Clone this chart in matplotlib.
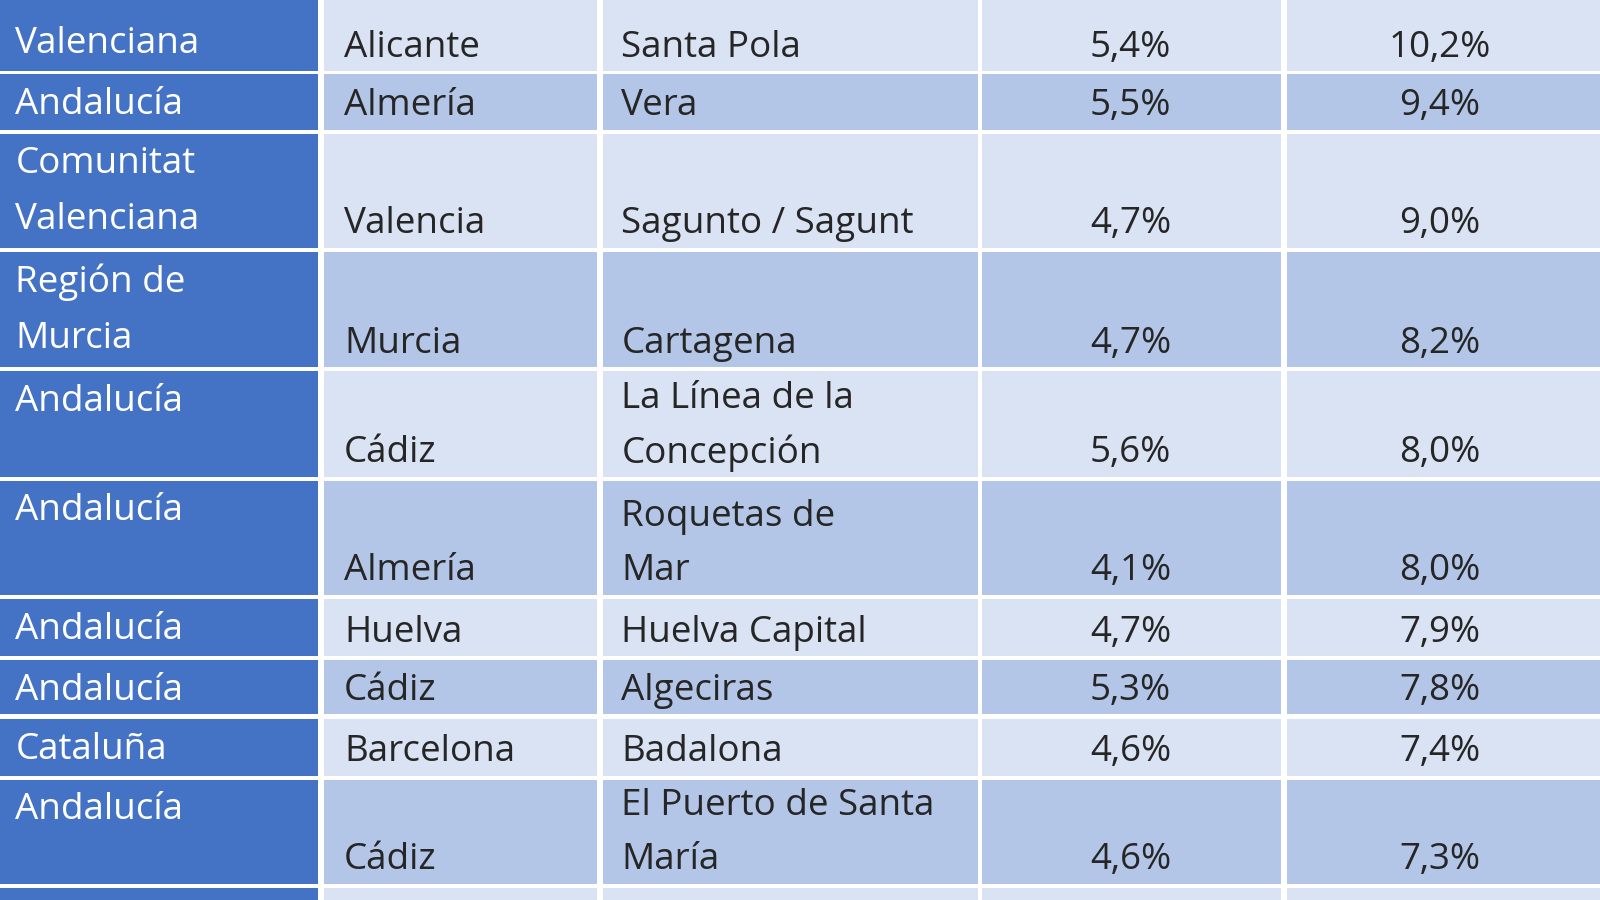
import matplotlib.pyplot as plt
from matplotlib.patches import Rectangle

# ======================
# DATA
# ======================
comunidad = [["Comunitat", "Valenciana"], ["Andalucía"], ["Comunitat", "Valenciana"],
             ["Región de", "Murcia"], ["Andalucía"], ["Andalucía"], ["Andalucía"],
             ["Andalucía"], ["Cataluña"], ["Andalucía"], ["Comunitat", "Valenciana"]]
provincia = ["Alicante", "Almería", "Valencia", "Murcia", "Cádiz", "Almería",
             "Huelva", "Cádiz", "Barcelona", "Cádiz", ""]
municipio = [["Santa Pola"], ["Vera"], ["Sagunto / Sagunt"], ["Cartagena"],
             ["La Línea de la", "Concepción"], ["Roquetas de", "Mar"],
             ["Huelva Capital"], ["Algeciras"], ["Badalona"],
             ["El Puerto de Santa", "María"], [""]]
valor_1 = ["5,4%", "5,5%", "4,7%", "4,7%", "5,6%", "4,1%", "4,7%", "5,3%", "4,6%", "4,6%", ""]
valor_2 = ["10,2%", "9,4%", "9,0%", "8,2%", "8,0%", "8,0%", "7,9%", "7,8%", "7,4%", "7,3%", ""]

# ======================
# LAYOUT
# ======================
W, H = 1568, 882
col_edges = [(0, 312), (318, 585), (591, 958), (962, 1255), (1261, 1568)]
row_edges = [(-42, 70), (73, 127), (131, 243), (247, 360), (364, 467), (471, 583),
             (587, 643), (647, 700), (705, 760), (764, 866), (870, 990)]
DARK = "#4472c4"
LIGHT = "#dae3f3"
MID = "#b4c6e7"
TXT = "#262626"
FS = 26.5

fig = plt.figure(figsize=(16, 9), dpi=100)
ax = fig.add_axes([0, 0, 1, 1])
ax.set_xlim(0, W)
ax.set_ylim(H, 0)
ax.axis("off")

for i, (top, bot) in enumerate(row_edges):
    fill = LIGHT if i % 2 == 0 else MID
    for j, (x0, x1) in enumerate(col_edges):
        c = DARK if j == 0 else fill
        ax.add_patch(Rectangle((x0, top), x1 - x0, bot - top, color=c, lw=0))

    # first column: top aligned, white
    for k, line in enumerate(comunidad[i]):
        ax.text(15, top + 30 + k * 55, line, color="white", fontsize=FS,
                family="Open Sans", va="center", ha="left")

    # other columns: bottom aligned
    ax.text(337, bot - 23, provincia[i], color=TXT, fontsize=FS,
            family="Open Sans", va="center", ha="left")
    for k, line in enumerate(reversed(municipio[i])):
        ax.text(609, bot - 23 - k * 53, line, color=TXT, fontsize=FS,
                family="Open Sans", va="center", ha="left")
    ax.text(1108, bot - 23, valor_1[i], color=TXT, fontsize=FS,
            family="Open Sans", va="center", ha="center")
    ax.text(1411, bot - 23, valor_2[i], color=TXT, fontsize=FS,
            family="Open Sans", va="center", ha="center")

fig.savefig("out.png", dpi=100)
